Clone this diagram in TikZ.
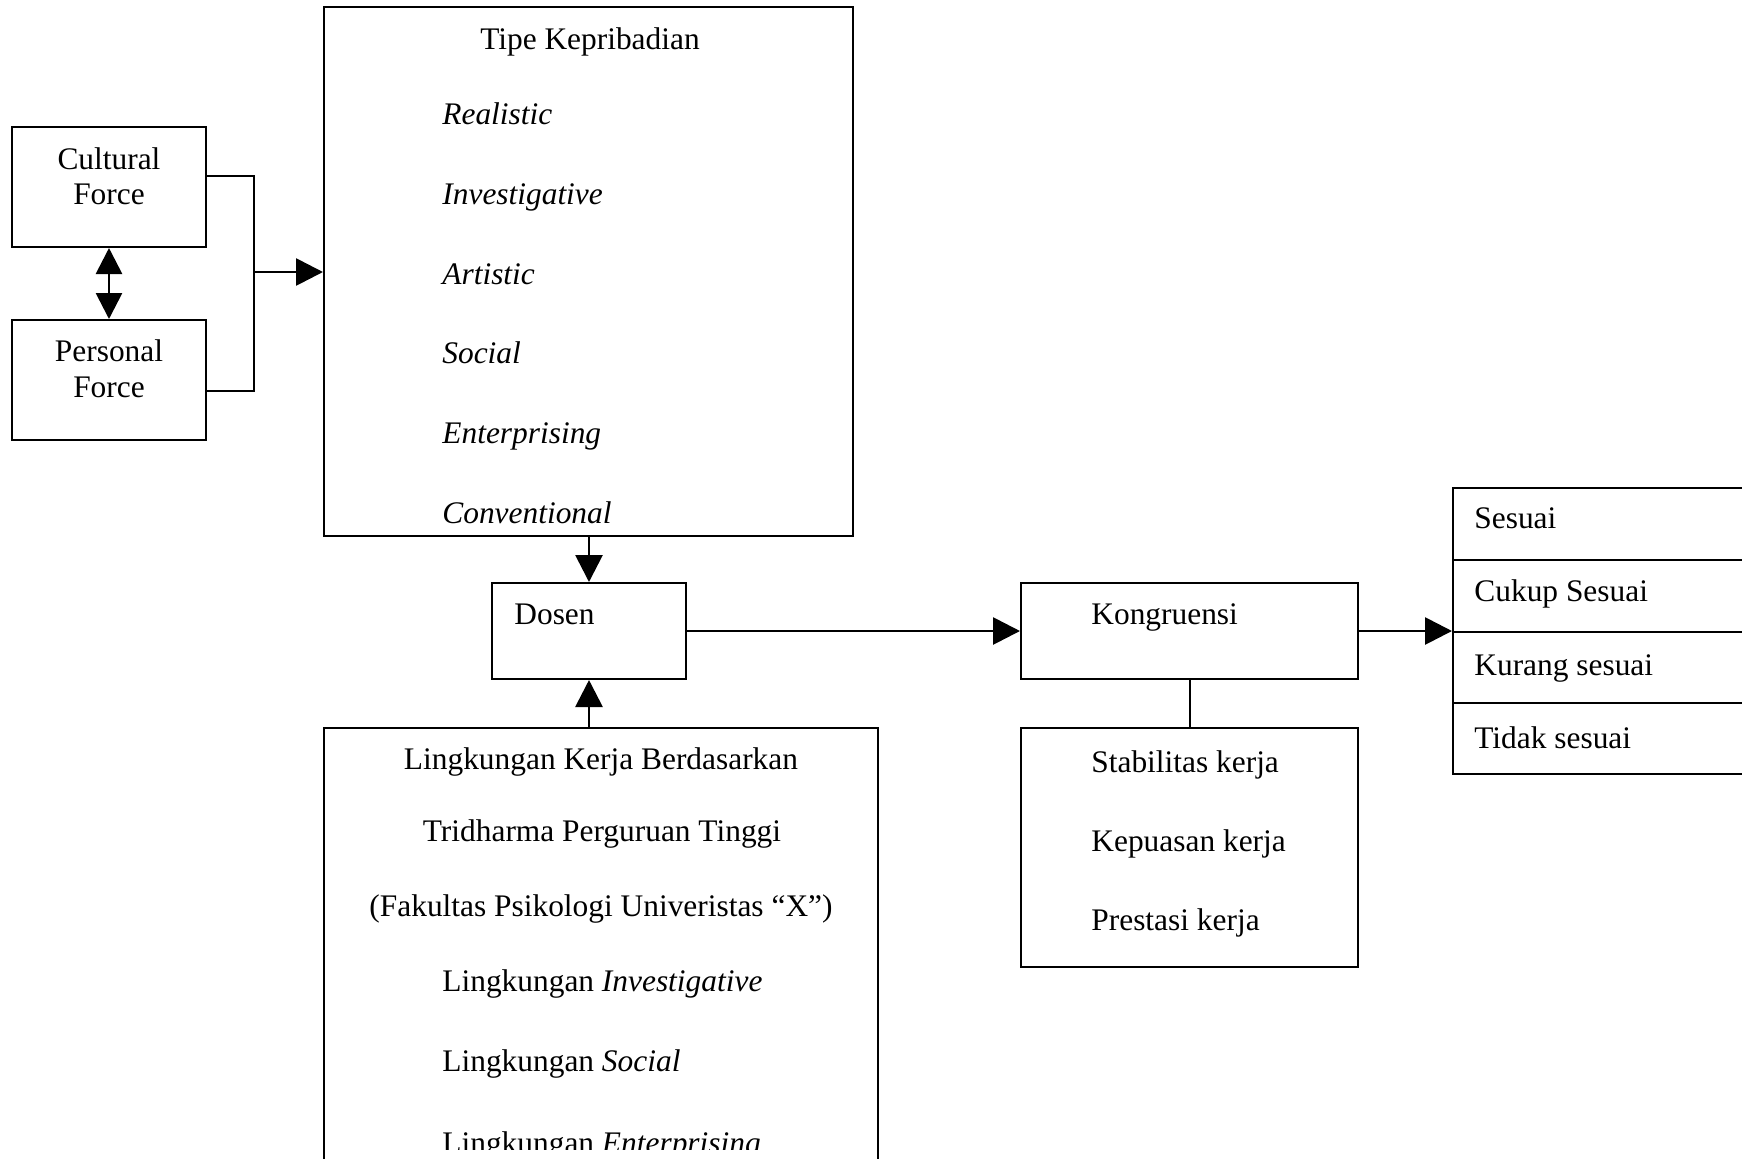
\documentclass[tikz,border=0pt]{standalone}
\usepackage{fontspec}
\setmainfont{Liberation Serif}
\usetikzlibrary{arrows.meta}
\begin{document}
\begin{tikzpicture}[x=0.5pt,y=-0.5pt,
  box/.style={draw,line width=1pt,inner sep=0pt,rectangle},
  txt/.style={inner sep=0pt,font=\fontsize{15.7}{19}\selectfont},
  lt/.style={txt,anchor=base west},
  ct/.style={txt,anchor=base},
  arr/.style={line width=1.4pt,-{Triangle[length=13.5pt,width=13.5pt]}},
  dbl/.style={line width=1.4pt,{Triangle[length=13pt,width=13pt]}-{Triangle[length=13pt,width=13pt]}},
  ln/.style={line width=1pt}]
\clip (0,0) rectangle (1742,1158);
% boxes
\node[box,minimum width=97pt,minimum height=60pt] (cult) at (109,187) {};
\node[box,minimum width=97pt,minimum height=60pt] (pers) at (109,380) {};
\node[box,minimum width=264.5pt,minimum height=264.5pt] (tipe) at (588.5,271.5) {};
\node[box,minimum width=97pt,minimum height=48pt] (dosen) at (589,631) {};
\node[box,minimum width=168.5pt,minimum height=48pt] (kong) at (1189.5,631) {};
\node[box,minimum width=168.5pt,minimum height=119.5pt] (stab) at (1189.5,847.5) {};
\node[box,minimum width=165pt,minimum height=143pt] (hasil) at (1618,631) {};
\node[box,minimum width=277pt,minimum height=236pt] (ling) at (601,964) {};
% texts
\node[ct] (c1) at (109,169) {Cultural};
\node[ct] (c2) at (109,204) {Force};
\node[ct] (p1) at (109,361) {Personal};
\node[ct] (p2) at (109,397) {Force};
\node[ct] (t0) at (590,49) {Tipe Kepribadian};
\node[lt] (t1) at (442,124) {\itshape Realistic};
\node[lt] (t2) at (442,204) {\itshape Investigative};
\node[lt] (t3) at (442,284) {\itshape Artistic};
\node[lt] (t4) at (442,363) {\itshape Social};
\node[lt] (t5) at (442,443) {\itshape Enterprising};
\node[lt] (t6) at (442,523) {\itshape Conventional};
\node[lt] (d0) at (514,624) {Dosen};
\node[lt] (k0) at (1091,624) {Kongruensi};
\node[lt] (s1) at (1091,772) {Stabilitas kerja};
\node[lt] (s2) at (1091,851) {Kepuasan kerja};
\node[lt] (s3) at (1091,930) {Prestasi kerja};
\node[lt] (h1) at (1474,528) {Sesuai};
\node[lt] (h2) at (1474,601) {Cukup Sesuai};
\node[lt] (h3) at (1474,675) {Kurang sesuai};
\node[lt] (h4) at (1474,748) {Tidak sesuai};
\node[ct] (l1) at (601,769) {Lingkungan Kerja Berdasarkan};
\node[ct] (l2) at (602,841) {Tridharma Perguruan Tinggi};
\node[ct] (l3) at (601,916) {(Fakultas Psikologi Univeristas “X”)};
\node[lt] (l4) at (442,991) {Lingkungan \textit{Investigative}};
\node[lt] (l5) at (442,1071) {Lingkungan \textit{Social}};
\begin{scope}
\clip (0,0) rectangle (1742,1149);
\node[lt] (l6) at (442,1153) {Lingkungan \textit{Enterprising}};
\end{scope}
% row dividers
\draw[ln] (hasil.west |- 0,560) -- (hasil.east |- 0,560);
\draw[ln] (hasil.west |- 0,632) -- (hasil.east |- 0,632);
\draw[ln] (hasil.west |- 0,703) -- (hasil.east |- 0,703);
% connectors
\coordinate (bt) at (254,176);
\coordinate (bb) at (254,391);
\coordinate (bm) at (254,272);
\draw[ln] (cult.east |- bt) -- (bt) -- (bb) -- (pers.east |- bb);
\draw[arr] (bm) -- (tipe.west |- bm);
\draw[dbl] (cult.south) -- (pers.north);
\draw[arr] (tipe.south -| dosen.north) -- (dosen.north);
\draw[arr] (ling.north -| dosen.south) -- (dosen.south);
\draw[arr] (dosen.east) -- (kong.west);
\draw[arr] (kong.east) -- (hasil.west);
\draw[ln] (kong.south) -- (stab.north);
\end{tikzpicture}
\end{document}
